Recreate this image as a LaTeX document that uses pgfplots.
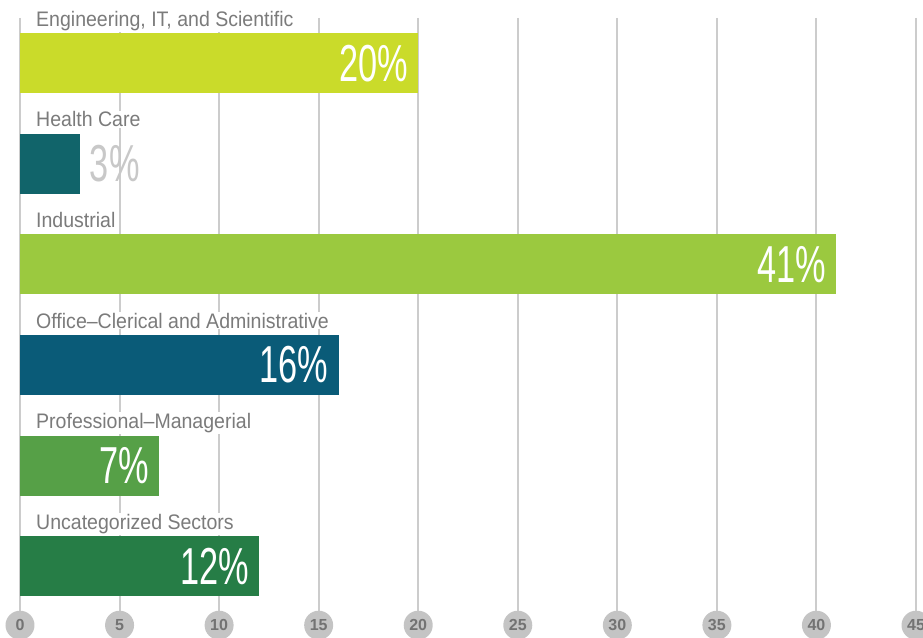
\documentclass[border=0pt]{standalone}
\usepackage{pgfplots}
\pgfplotsset{compat=1.18}
\usepackage{fontspec}
\setmainfont{Liberation Sans}
\newfontfamily\labfont[FakeStretch=0.93]{Liberation Sans}
\newfontfamily\pctfont[FakeStretch=0.66]{Liberation Sans}
\definecolor{cEng}{HTML}{CADB2A}
\definecolor{cHea}{HTML}{11646A}
\definecolor{cInd}{HTML}{9BC93F}
\definecolor{cOff}{HTML}{0A5B78}
\definecolor{cPro}{HTML}{56A047}
\definecolor{cUnc}{HTML}{267D46}
\definecolor{labgray}{HTML}{7B7B7B}
\definecolor{pctgray}{HTML}{C8C8C8}
\definecolor{gridgray}{HTML}{CCCCCC}
\definecolor{circgray}{HTML}{C4C4C4}
\definecolor{ticktext}{HTML}{737373}
\tikzset{catlabel/.style={font=\fontsize{21}{21}\labfont, text=labgray, fill=white, inner xsep=3pt, inner ysep=1pt, anchor=base west}}
\begin{document}
\begin{tikzpicture}
\begin{axis}[
  name=ax,
  scale only axis,
  width=896pt, height=593.5pt,
  xmin=0, xmax=45, ymin=-0.45, ymax=5.45,
  y dir=reverse,
  clip=false,
  xbar, bar width=60pt, bar shift=0pt,
  axis line style={draw=none},
  xtick={0,5,...,45}, ytick=\empty,
  major tick length=0pt,
  xmajorgrids,
  grid style={gridgray, line width=2pt},
  /pgf/number format/assume math mode=true,
  xticklabel style={circle, fill=circgray, text=ticktext, inner sep=0pt,
    minimum size=29pt, font=\fontsize{16}{16}\selectfont\bfseries, anchor=north, yshift=1pt},
  point meta=x,
  nodes near coords={\pgfmathprintnumber{\pgfplotspointmeta}\%},
  every node near coord/.style={font=\fontsize{52}{52}\pctfont, text=white, anchor=east, xshift=-10pt, inner sep=0pt},
]
\addplot[draw=none, fill=cEng] coordinates {(20,0)};
\addplot[draw=none, fill=cHea, every node near coord/.append style={text=pctgray, anchor=west, xshift=20pt}] coordinates {(3,1)};
\addplot[draw=none, fill=cInd] coordinates {(41,2)};
\addplot[draw=none, fill=cOff] coordinates {(16,3)};
\addplot[draw=none, fill=cPro] coordinates {(7,4)};
\addplot[draw=none, fill=cUnc] coordinates {(12,5)};
\node[catlabel, xshift=13pt, yshift=37pt] at (axis cs:0,0) {Engineering, IT, and Scientific};
\node[catlabel, xshift=13pt, yshift=37pt] at (axis cs:0,1) {Health Care};
\node[catlabel, xshift=13pt, yshift=37pt] at (axis cs:0,2) {Industrial};
\node[catlabel, xshift=13pt, yshift=37pt] at (axis cs:0,3) {Office–Clerical and Administrative};
\node[catlabel, xshift=13pt, yshift=37pt] at (axis cs:0,4) {Professional–Managerial};
\node[catlabel, xshift=13pt, yshift=37pt] at (axis cs:0,5) {Uncategorized Sectors};
\end{axis}
\pgfresetboundingbox
\path[use as bounding box] ([xshift=-20pt,yshift=-26pt]ax.south west) rectangle ([xshift=7pt,yshift=18pt]ax.north east);
\end{tikzpicture}
\end{document}
